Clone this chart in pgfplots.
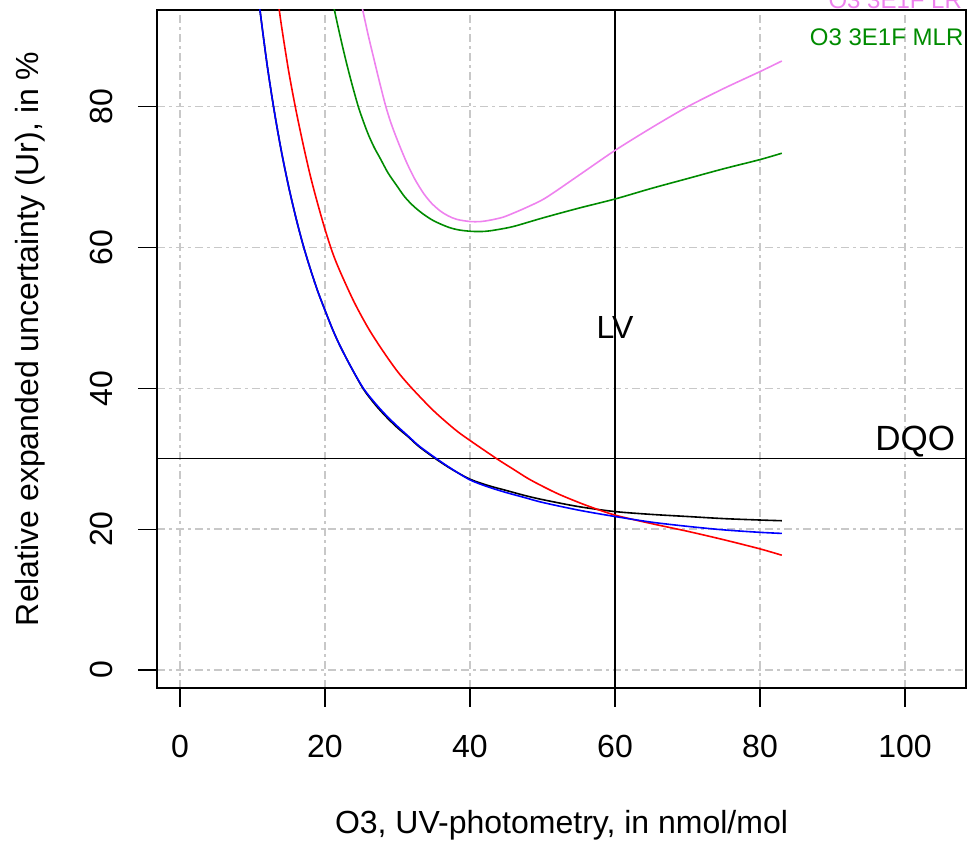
\documentclass[border=0pt]{standalone}
\usepackage{fontspec}
\setmainfont{Liberation Sans}
\usepackage{pgfplots}
\pgfplotsset{compat=1.18}
\definecolor{rgreen}{RGB}{0,139,0}
\definecolor{rviolet}{RGB}{238,130,238}
\definecolor{gridgray}{RGB}{200,200,200}
\begin{document}
\begin{tikzpicture}
\useasboundingbox (-78.5pt,-78pt) rectangle (411.5pt,344pt);
\begin{axis}[
  at={(0,0)}, anchor=south west,
  scale only axis, width=404.5pt, height=339pt,
  xmin=-3.17, xmax=108.41, ymin=-2.56, ymax=93.75,
  xtick={0,20,40,60,80,100}, ytick={0,20,40,60,80},
  tick pos=left, tick align=outside, major tick length=9.5pt,
  every tick/.style={black, line width=0.6pt},
  axis line style={line width=0.6pt},
  grid=major,
  grid style={gridgray, line width=0.7pt, dash pattern=on 4pt off 2pt on 1.5pt off 2pt},
  /pgf/number format/assume math mode=true,
  tick label style={font=\fontsize{16}{19}\selectfont},
  xticklabel style={anchor=center, yshift=-19.5pt},
  yticklabel style={xshift=-18.5pt, rotate=90, anchor=center},
  label style={font=\fontsize{16}{19}\selectfont},
  xlabel={O3, UV-photometry, in nmol/mol},
  ylabel={Relative expanded uncertainty (Ur), in \%},
  x label style={at={(axis description cs:0.5,-0.202)}, anchor=center},
  y label style={at={(axis description cs:-0.157,0.515)}, anchor=center},
  clip mode=individual,
]
% reference lines
\addplot[black, line width=0.7pt] coordinates {(60,-10) (60,110)};
\addplot[black, line width=0.7pt] coordinates {(-10,30) (120,30)};
% black
\addplot[black, line width=0.8pt, smooth] coordinates {
(10.6,97.7) (11,94.0) (12,86.1) (13,79.4) (14,73.6) (15,68.6) (16,64.2) (17,60.3) (18,56.9) (19,53.8) (20,51.1) (21,48.5) (22,46.2) (23.5,43.2) (25.3,39.9) (27,37.6) (28.5,35.9) (30,34.4) (31.5,33.1) (33,31.7) (35.4,29.9) (37.5,28.5) (40,27.1) (42.5,26.2) (45,25.5) (47.5,24.8) (50,24.2) (55,23.2) (60,22.5) (65,22.1) (70,21.8) (75,21.5) (80,21.3) (83,21.2)};
% red
\addplot[red, line width=0.8pt, smooth] coordinates {
(13.2,97.9) (13.5,95.3) (14,91.5) (15,85.0) (16,79.5) (17,74.6) (18,70.1) (19,66.2) (20,62.6) (21,59.4) (22,56.8) (24,52.3) (26,48.5) (28,45.3) (30,42.4) (32,40) (35,36.8) (38,34.1) (40,32.6) (43.7,30) (46,28.5) (48,27.2) (50,26.1) (52.4,24.9) (56,23.4) (60,22.0) (65,20.8) (70,19.7) (75,18.5) (80,17.2) (83,16.3)};
% blue
\addplot[blue, line width=0.8pt, smooth] coordinates {
(10.6,97.7) (11,94.0) (12,86.1) (13,79.4) (14,73.6) (15,68.6) (16,64.2) (17,60.3) (18,56.9) (19,53.8) (20,51.1) (21,48.5) (22,46.2) (23.5,43.2) (25.3,40) (27,37.8) (28.5,36.1) (30,34.6) (31.5,33.2) (33,31.8) (35.4,30) (37.5,28.55) (40,27.0) (42.5,26.0) (45,25.2) (47.5,24.5) (50,23.8) (55,22.7) (60,21.8) (65,21.0) (70,20.4) (75,19.9) (80,19.55) (83,19.4)};
% green
\addplot[rgreen, line width=0.8pt, smooth] coordinates {
(21.0,95.5) (21.3,93.75) (22.1,90.0) (22.9,86.5) (23.7,83.3) (24.6,80) (25.3,77.9) (26,76) (26.8,74.2) (27.6,72.7) (28.7,70.6) (29.9,68.8) (31,67.2) (32.2,65.9) (33.5,64.8) (35,63.8) (37,62.9) (38.5,62.5) (40.3,62.3) (42,62.3) (43.5,62.5) (46,63.0) (50,64.2) (55,65.6) (60,66.9) (65,68.4) (70,69.8) (75,71.2) (80,72.5) (83,73.4)};
% violet
\addplot[rviolet, line width=0.8pt, smooth] coordinates {
(24.9,95.2) (25.2,93.75) (26,90.0) (26.7,87.0) (27.5,83.6) (28.4,80) (29.2,77.4) (30.2,74.7) (31.3,72.0) (32.4,69.7) (33.6,67.7) (34.7,66.3) (35.9,65.2) (37,64.5) (38.2,64.0) (40,63.7) (41.5,63.7) (42.8,63.9) (44.5,64.3) (46,64.9) (48,65.8) (50.5,67.1) (55.2,70.4) (60,73.8) (65,77) (70,80) (75,82.6) (80,85.0) (83,86.5)};
\node[font=\fontsize{16}{19}\selectfont] at (axis cs:60,48.6) {LV};
\node[font=\fontsize{17.5}{20}\selectfont] at (axis cs:101.4,32.4) {DQO};
\node[font=\fontsize{12}{14}\selectfont, text=rgreen, anchor=east, inner sep=0pt] at (axis cs:108.1,89.9) {O3 3E1F MLR};
\node[font=\fontsize{12}{14}\selectfont, text=rviolet, anchor=east, inner sep=0pt] at (axis cs:107.9,95.1) {O3 3E1F LR};
\end{axis}
\end{tikzpicture}
\end{document}
